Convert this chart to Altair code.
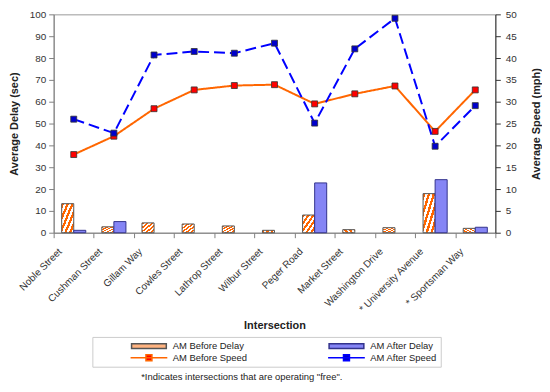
import altair as alt
import pandas as pd

categories = ["Noble Street", "Cushman Street", "Gillam Way", "Cowles Street",
              "Lathrop Street", "Wilbur Street", "Peger Road", "Market Street",
              "Washington Drive", "*  University Avenue", "* Sportsman Way"]
delay_before = [13.3, 2.7, 4.5, 4.0, 3.1, 1.1, 8.1, 1.4, 2.3, 17.9, 2.0]
delay_after = [1.1, 5.1, 0, 0, 0, 0, 22.8, 0, 0, 24.3, 2.5]
speed_before = [17.9, 22.1, 28.4, 32.7, 33.7, 33.9, 29.5, 31.8, 33.6, 23.2, 32.7]
speed_after = [26.0, 22.8, 40.7, 41.5, 41.1, 43.4, 25.1, 42.1, 49.1, 19.8, 29.1]
series = ["AM Before Delay", "AM After Delay", "AM Before Speed", "AM After Speed"]
footnote = '*Indicates intersections that are operating "free".'

delay_rows = []
for c, b, a in zip(categories, delay_before, delay_after):
    delay_rows.append({"Intersection": c, "Series": series[0], "Delay": b})
    delay_rows.append({"Intersection": c, "Series": series[1], "Delay": a})
df_delay = pd.DataFrame(delay_rows)

speed_rows = []
for c, b, a in zip(categories, speed_before, speed_after):
    speed_rows.append({"Intersection": c, "Series": series[2], "Speed": b})
    speed_rows.append({"Intersection": c, "Series": series[3], "Speed": a})
df_speed = pd.DataFrame(speed_rows)

FONT = "Liberation Sans"

# hatch-like fill for the "before" bars
n = 5
stops = []
for i in range(n):
    s = i / n
    m = s + 0.5 / n
    e = (i + 1) / n
    stops += [{"offset": s, "color": "#ff6600"}, {"offset": m, "color": "#ff6600"},
              {"offset": m, "color": "#ffffff"}, {"offset": e, "color": "#ffffff"}]
hatch = {"gradient": "linear", "x1": 0, "y1": 0, "x2": 1, "y2": 1, "stops": stops}

rect_path = "M-3.5,-0.5H3.5V0.5H-3.5Z"
line_path = "M-3.7,0H3.7M-0.6,-0.6H0.6V0.6H-0.6Z"

fill_scale = alt.Scale(domain=series, range=["#ffb380", "#8585f5", "#ff0000", "#0000cc"])
stroke_scale = alt.Scale(domain=series, range=["#555555", "#33338c", "#ff6600", "#0000ff"])
shape_scale = alt.Scale(domain=series, range=[rect_path, rect_path, line_path, line_path])
dash_scale = alt.Scale(domain=series[2:], range=[[1, 0], [11, 5]])

legend = alt.Legend(title=None, orient="none", legendX=39, legendY=325,
                    direction="horizontal", columns=2,
                    symbolFillColor="#ffffff", symbolStrokeColor="#000000",
                    symbolSize=100, symbolStrokeWidth=1.5, symbolOpacity=1,
                    symbolOffset=48, labelOffset=18,
                    labelFont=FONT, labelFontSize=9.5, labelColor="#222222",
                    columnPadding=46, rowPadding=0, strokeColor="#cccccc",
                    padding=3)

x_enc = alt.X("Intersection:N", sort=categories,
              scale=alt.Scale(domain=categories, paddingInner=0, paddingOuter=0),
              axis=alt.Axis(title="Intersection", labelAngle=-45, labelAlign="right",
                            labelBaseline="middle", tickBand="extent", tickSize=5,
                            labelPadding=12, labelOffset=-14, titlePadding=3,
                            labelFontSize=10))
xoff = alt.XOffset("Series:N", scale=alt.Scale(domain=series[:2], paddingOuter=0.667, paddingInner=0))

y_left = alt.Y("Delay:Q", scale=alt.Scale(domain=[0, 100]),
               axis=alt.Axis(title="Average Delay (sec)", orient="left",
                             values=list(range(0, 101, 10)), tickSize=5, labelPadding=3,
                             titlePadding=10))
y_right = alt.Y("Speed:Q", scale=alt.Scale(domain=[0, 50]),
                axis=alt.Axis(title="Average Speed (mph)", orient="right",
                              values=list(range(0, 51, 5)), tickSize=5, labelPadding=5,
                              titlePadding=14, titleAngle=270, titleBaseline="top",
                              domainColor="#333333", tickColor="#333333"))

bars_before = alt.Chart(df_delay).transform_filter(
    "datum.Series == 'AM Before Delay' && datum.Delay > 0"
).mark_bar(fill=hatch, stroke="#555555", strokeWidth=1).encode(x=x_enc, xOffset=xoff, y=y_left)

bars_after = alt.Chart(df_delay).transform_filter(
    "datum.Series == 'AM After Delay' && datum.Delay > 0"
).mark_bar(strokeWidth=1).encode(
    x=x_enc, xOffset=xoff, y=y_left,
    fill=alt.Fill("Series:N", scale=fill_scale, legend=legend),
    stroke=alt.Stroke("Series:N", scale=stroke_scale, legend=legend))

lines = alt.Chart(df_speed).mark_line(strokeWidth=2).encode(
    x=x_enc, y=y_right,
    stroke=alt.Stroke("Series:N", scale=stroke_scale, legend=legend),
    strokeDash=alt.StrokeDash("Series:N", scale=dash_scale, legend=None))

points = alt.Chart(df_speed).mark_square(size=36, opacity=1, stroke="#333333", strokeWidth=0.8).encode(
    x=x_enc, y=y_right,
    fill=alt.Fill("Series:N", scale=fill_scale, legend=legend))

shape_layer = alt.Chart(df_speed).transform_filter("false").mark_point(filled=True, opacity=1).encode(
    x=x_enc, y=y_right,
    shape=alt.Shape("Series:N", scale=shape_scale, legend=legend),
    fill=alt.Fill("Series:N", scale=fill_scale, legend=legend),
    stroke=alt.Stroke("Series:N", scale=stroke_scale, legend=legend))

left = alt.layer(bars_before, bars_after)
right = alt.layer(lines, points, shape_layer)

chart = alt.layer(left, right).resolve_scale(y="independent").properties(
    width=445, height=220, padding={"left": 0, "top": 0, "right": 0, "bottom": 0},
    title=alt.TitleParams(text=footnote, orient="bottom", fontSize=9.5, font=FONT,
                          fontWeight="normal", anchor="middle", dx=-33, offset=5, color="#222222")
).configure(font=FONT).configure_axis(
    labelFont=FONT, labelFontSize=10, labelColor="#333333",
    titleFont=FONT, titleFontSize=11, titleFontWeight="bold", titleColor="#222222",
    domainColor="#808080", tickColor="#808080", grid=False
).configure_view(stroke="#999999", strokeWidth=1)

chart.save("out.html", embed_options={"renderer": "svg", "actions": False})
